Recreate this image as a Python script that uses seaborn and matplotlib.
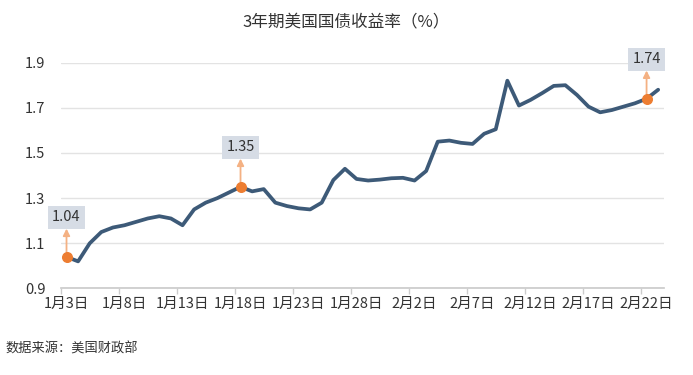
"""
3年期美国国债收益率 line chart
"""

import pandas as pd
import numpy as np
import matplotlib
matplotlib.use('Agg')
import matplotlib.pyplot as plt
import seaborn as sns

# ── Data ───────────────────────────────────────────────────────────────────
start_date = '2022-01-03'
yields = [1.04, 1.02, 1.10, 1.15, 1.17, 1.18, 1.195, 1.21, 1.22, 1.21,
          1.18, 1.25, 1.28, 1.30, 1.325, 1.35, 1.33, 1.34, 1.28, 1.265,
          1.255, 1.25, 1.28, 1.38, 1.43, 1.385, 1.378, 1.382, 1.388, 1.39,
          1.378, 1.42, 1.55, 1.555, 1.545, 1.54, 1.585, 1.605, 1.82, 1.71,
          1.735, 1.765, 1.797, 1.80, 1.757, 1.705, 1.68, 1.69, 1.705, 1.72,
          1.74, 1.78]
highlight_idx = [0, 15, 50]
y_ticks = [0.9, 1.1, 1.3, 1.5, 1.7, 1.9]

dates = pd.date_range(start_date, periods=len(yields))
labels = [f'{d.month}月{d.day}日' for d in dates]
df = pd.DataFrame({'pos': np.arange(len(yields)), 'yield': yields, 'label': labels})

# ── Style ──────────────────────────────────────────────────────────────────
sns.set_theme(style='white')
plt.rcParams['font.family'] = ['Noto Sans CJK SC', 'DejaVu Sans']
plt.rcParams['axes.unicode_minus'] = False

line_color = '#3D5A78'
dot_color = '#ED7D31'
arrow_color = '#F4B183'
box_color = '#D6DCE5'
text_color = '#333333'

fig = plt.figure(figsize=(6.93, 3.75), dpi=100)
ax = fig.add_axes([0.0876, 0.2307, 0.8705, 0.6023])

sns.lineplot(data=df, x='pos', y='yield', color=line_color, linewidth=2.7,
             solid_joinstyle='round', solid_capstyle='round', ax=ax)

# highlighted points with arrow + label box
for i in highlight_idx:
    v = yields[i]
    ax.annotate('', xy=(i, v + 0.125), xytext=(i, v),
                arrowprops=dict(arrowstyle='-|>', color=arrow_color, lw=1.3,
                                mutation_scale=10, shrinkA=0, shrinkB=0),
                annotation_clip=False, zorder=4)
    ax.scatter([i], [v], s=48, color=dot_color, zorder=5, clip_on=False)
    ax.text(i, v + 0.175, f'{v:.2f}', ha='center', va='center', fontsize=10.5,
            color=text_color, zorder=6, clip_on=False,
            bbox=dict(boxstyle='square,pad=0.3', fc=box_color, ec='none'))

# ── Axes ───────────────────────────────────────────────────────────────────
ax.set_xlim(-0.5, len(yields) - 0.5)
ax.set_ylim(0.9, 1.9)
ax.set_yticks(y_ticks)
ax.set_yticklabels([f'{t:.1f}' for t in y_ticks])
ax.yaxis.grid(True, color='#E3E3E3', linewidth=1)
ax.set_axisbelow(True)

major = list(range(0, len(yields), 5))
ax.set_xticks(major)
ax.set_xticklabels([labels[i] for i in major])
ax.set_xticks([i - 0.5 for i in major], minor=True)
ax.tick_params(axis='x', which='major', length=0, pad=6, labelsize=10.5, labelcolor=text_color)
ax.tick_params(axis='x', which='minor', length=4, color='#CCCCCC', width=1, bottom=True)
ax.tick_params(axis='y', length=0, pad=11, labelsize=10.5, labelcolor=text_color)

for s in ['top', 'right', 'left']:
    ax.spines[s].set_visible(False)
ax.spines['bottom'].set_color('#CCCCCC')
ax.set_xlabel('')
ax.set_ylabel('')

fig.text(0.5, 0.94, '3年期美国国债收益率（%）', ha='center', va='center',
         fontsize=12, color=text_color)
fig.text(0.008, 0.07, '数据来源：美国财政部', ha='left', va='center',
         fontsize=9.5, color=text_color)

plt.savefig('out.png', dpi=100)
plt.close()
